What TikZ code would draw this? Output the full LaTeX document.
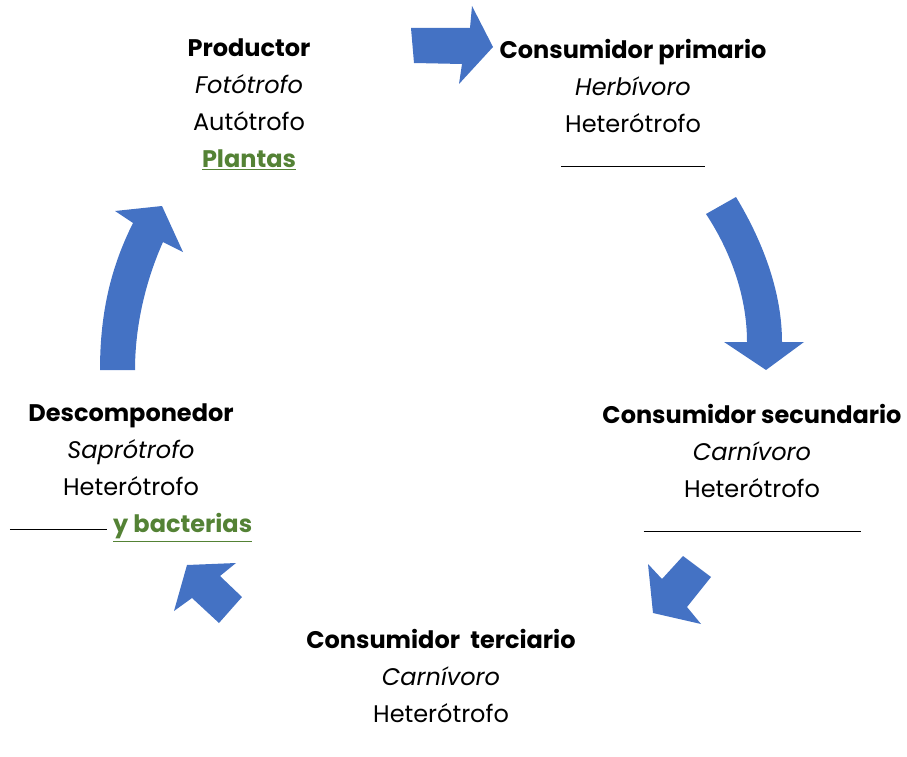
\documentclass[tikz,border=0pt]{standalone}
\usepackage{fontspec}
\setmainfont{Poppins}
\definecolor{flechaazul}{HTML}{4472C4}
\definecolor{verdetexto}{HTML}{548235}
\newcommand{\rellenar}[1]{\textcolor{verdetexto}{\underline{\textbf{#1}}}}
\newcommand{\espacio}[1]{\rule[3pt]{#1}{0.8pt}}
\begin{document}
\begin{tikzpicture}[x=1pt,y=-1pt,
  flecha/.style={fill=flechaazul},
  bloque/.style={align=center,inner sep=0pt,anchor=north,font=\fontsize{24}{37}\selectfont}]
  \useasboundingbox (0,0) rectangle (907,757);
  % bloques de texto
  \node[bloque] (prod) at (249,39) {\textbf{Productor}\\\textit{Fotótrofo}\\Autótrofo\\\rellenar{Plantas}};
  \node[bloque] (prim) at (633,39) {\textbf{Consumidor primario}\\\textit{Herbívoro}\\Heterótrofo\\\espacio{144pt}};
  \node[bloque] (secu) at (752,404) {\textbf{Consumidor secundario}\\\textit{Carnívoro}\\Heterótrofo\\\espacio{217pt}};
  \node[bloque] (terc) at (441,629) {\textbf{Consumidor\ \ terciario}\\\textit{Carnívoro}\\Heterótrofo};
  \node[bloque] (desc) at (131,404) {\textbf{Descomponedor}\\\textit{Saprótrofo}\\Heterótrofo\\\espacio{97pt} \rellenar{y bacterias}};
  % flechas
  \fill[flecha] (411,28)--(470,28)--(472,6)--(493,47)--(459,84)--(462,64)--(414,63)--cycle;
  \fill[flecha] (706,214)--(736,197) .. controls (765,245) and (782,295) .. (782,342)
    --(804,342)--(766,370)--(724,342)--(747,342) .. controls (747,300) and (733,255) .. (706,214)--cycle;
  \fill[flecha] (653,613)--(648,564)--(662,579)--(683,556)--(711,577)--(687,607)--(701,624)--cycle;
  \fill[flecha] (187,565)--(236,563)--(220,576)--(242,597)--(219,623)--(192,598)--(174,611)--cycle;
  \fill[flecha] (100,370) .. controls (100,310) and (112,265) .. (133,223)--(115,211)--(162,206)--(183,252)
    --(163,242) .. controls (146,280) and (135,325) .. (135,370)--cycle;
\end{tikzpicture}
\end{document}
